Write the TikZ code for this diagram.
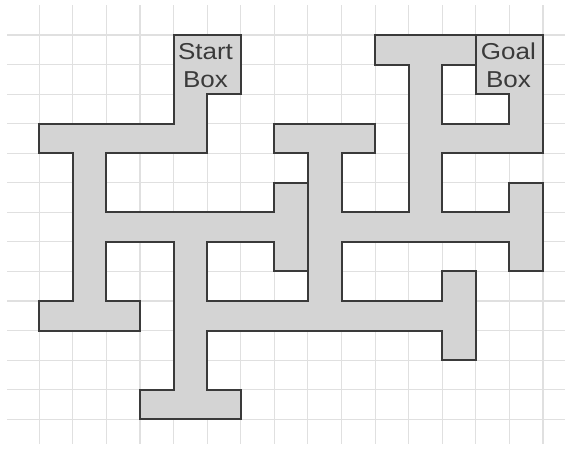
\documentclass[tikz,border=0pt]{standalone}
\usepackage{graphicx}
\usepackage{fontspec}
\setmainfont{Liberation Sans}
\definecolor{wallc}{HTML}{3A3A3A}
\definecolor{floorc}{HTML}{D4D4D4}
\definecolor{gridc}{HTML}{E0E0E0}
\definecolor{txtc}{HTML}{3A3A3A}
\begin{document}
\begin{tikzpicture}[x=33.58pt,y=-29.55pt,
  gridline/.style={draw=gridc,line width=1.1pt},
  floorfill/.style={fill=floorc},
  wallline/.style={draw=wallc,line width=2pt,line join=miter},
  boxtext/.style={font=\fontsize{23}{28}\selectfont,text=txtc,align=center,inner sep=0pt}]
\useasboundingbox (-1.170,-1.184) rectangle (15.774,14.044);
% grid
\foreach \c in {0,...,15} \draw[gridline] (\c,-1.0) -- (\c,13.85);
\foreach \r in {0,...,13} \draw[gridline] (-0.96,\r) -- (15.65,\r);
% floor of the maze
\fill[floorfill] (4,0) rectangle (6,2);
\fill[floorfill] (4,2) rectangle (5,4);
\fill[floorfill] (0,3) rectangle (5,4);
\fill[floorfill] (1,4) rectangle (2,10);
\fill[floorfill] (0,9) rectangle (3,10);
\fill[floorfill] (2,6) rectangle (8,7);
\fill[floorfill] (7,5) rectangle (8,8);
\fill[floorfill] (4,7) rectangle (5,13);
\fill[floorfill] (3,12) rectangle (6,13);
\fill[floorfill] (5,9) rectangle (13,10);
\fill[floorfill] (12,8) rectangle (13,11);
\fill[floorfill] (7,3) rectangle (10,4);
\fill[floorfill] (8,4) rectangle (9,10);
\fill[floorfill] (9,6) rectangle (15,7);
\fill[floorfill] (14,5) rectangle (15,8);
\fill[floorfill] (10,0) rectangle (13,1);
\fill[floorfill] (11,1) rectangle (12,7);
\fill[floorfill] (12,3) rectangle (15,4);
\fill[floorfill] (14,0) rectangle (15,4);
\fill[floorfill] (13,0) rectangle (15,2);
% walls
\draw[wallline] (8,5)--(7,5)--(7,6)--(2,6)--(2,4)--(5,4)--(5,2)--(6,2)--(6,0)--(4,0)--(4,3)--(0,3)--(0,4)--(1,4)--(1,9)--(0,9)--(0,10)--(3,10)--(3,9)--(2,9)--(2,7)--(4,7)--(4,12)--(3,12)--(3,13)--(6,13)--(6,12)--(5,12)--(5,10)--(12,10)--(12,11)--(13,11)--(13,8)--(12,8)--(12,9)--(9,9)--(9,7)--(14,7)--(14,8)--(15,8)--(15,5)--(14,5)--(14,6)--(12,6)--(12,4)--(15,4)--(15,0)--(10,0)--(10,1)--(11,1)--(11,6)--(9,6)--(9,4)--(10,4)--(10,3)--(7,3)--(7,4)--(8,4)--(8,9)--(5,9)--(5,7)--(7,7)--(7,8)--(8,8);
\draw[wallline] (13,0)--(13,2)--(14,2)--(14,3)--(12,3)--(12,1)--(13,1);
% labels
\node[boxtext] (start) at (4.95,1.03) {\scalebox{1.13}[1]{Start}\\\scalebox{1.13}[1]{Box}};
\node[boxtext] (goal) at (13.97,1.03) {\scalebox{1.13}[1]{Goal}\\\scalebox{1.13}[1]{Box}};
\end{tikzpicture}
\end{document}
